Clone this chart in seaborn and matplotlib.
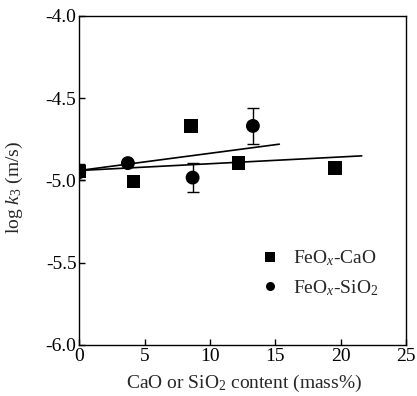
import numpy as np
import pandas as pd
import matplotlib
matplotlib.use("Agg")
import matplotlib.pyplot as plt
import seaborn as sns

# Data
cao_content = [0.0, 4.15, 8.54, 12.18, 19.57]
cao_logk3 = [-4.946, -5.007, -4.669, -4.892, -4.926]

sio2_content = [0.0, 3.72, 8.67, 13.28]
sio2_logk3 = [-4.950, -4.895, -4.983, -4.669]
sio2_err = [0.05, 0.0, 0.09, 0.11]

# fitted lines (end points)
fit_cao_x = [0.0, 21.6]
fit_cao_y = [-4.94, -4.851]
fit_sio2_x = [0.0, 15.3]
fit_sio2_y = [-4.94, -4.78]

sns.set_style("ticks")
plt.rcParams['font.family'] = ['Liberation Serif', 'DejaVu Serif']
plt.rcParams['mathtext.fontset'] = 'custom'
plt.rcParams['mathtext.rm'] = 'Liberation Serif'
plt.rcParams['mathtext.it'] = 'Liberation Serif:italic'
plt.rcParams['axes.unicode_minus'] = False
fs = 14

df = pd.concat([
    pd.DataFrame({'x': cao_content, 'y': cao_logk3, 'slag': 'FeO$_x$-CaO'}),
    pd.DataFrame({'x': sio2_content, 'y': sio2_logk3, 'slag': 'FeO$_x$-SiO$_2$'}),
], ignore_index=True)

fig, ax = plt.subplots(figsize=(4.17, 3.96), dpi=100)
fig.subplots_adjust(left=0.19, right=0.974, top=0.96, bottom=0.129)

# fit lines
sns.lineplot(x=fit_cao_x, y=fit_cao_y, color='black', lw=1.2, ax=ax)
sns.lineplot(x=fit_sio2_x, y=fit_sio2_y, color='black', lw=1.2, ax=ax)

# error bars
ax.errorbar(sio2_content, sio2_logk3, yerr=sio2_err, fmt='none',
            ecolor='black', elinewidth=1, capsize=4, capthick=1, zorder=2)

sns.scatterplot(data=df, x='x', y='y', style='slag', markers=['s', 'o'],
                color='black', s=100, edgecolor='black', linewidth=0, ax=ax, zorder=3)

ax.set_xlim(0, 25)
ax.set_ylim(-6.0, -4.0)
ax.set_xticks([0, 5, 10, 15, 20, 25])
ax.set_yticks([-6.0, -5.5, -5.0, -4.5, -4.0])
ax.set_yticklabels(['-6.0', '-5.5', '-5.0', '-4.5', '-4.0'])
ax.tick_params(direction='in', length=4, width=1, colors='black', labelsize=fs, pad=2)
for sp in ax.spines.values():
    sp.set_visible(True)
    sp.set_color('black')
    sp.set_linewidth(1)

ax.set_xlabel('CaO or SiO$_2$ content (mass%)', fontsize=fs)
ax.set_ylabel('log $k_3$ (m/s)', fontsize=fs)
ax.xaxis.set_label_coords(0.503, -0.085)
ax.yaxis.set_label_coords(-0.165, 0.477)

leg = ax.legend(loc='lower right', bbox_to_anchor=(0.945, 0.114), frameon=False,
                fontsize=fs, markerscale=0.65, handlelength=1.0, handletextpad=0.7,
                labelspacing=0.5, borderpad=0)

fig.savefig('out.png', dpi=100)
